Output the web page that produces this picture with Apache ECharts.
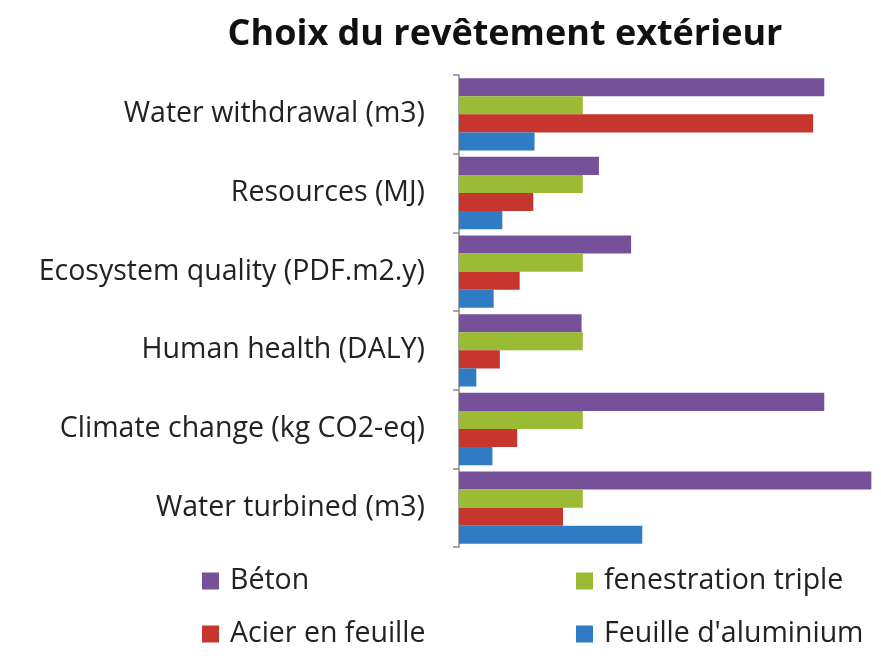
<!DOCTYPE html>
<html>
<head>
<meta charset="utf-8">
<script src="https://cdn.jsdelivr.net/npm/echarts@6/dist/echarts.min.js"></script>
<style>html,body{margin:0;padding:0;background:#fff}#c{width:881px;height:668px}</style>
</head>
<body>
<div id="c"></div>
<script>
const categories = ["Water withdrawal (m3)", "Resources (MJ)", "Ecosystem quality (PDF.m2.y)", "Human health (DALY)", "Climate change (kg CO2-eq)", "Water turbined (m3)"];
const seriesNames = ["Béton", "fenestration triple", "Acier en feuille", "Feuille d'aluminium"];
const beton = [295, 113, 139, 99, 295, 333];
const fenestration = [100, 100, 100, 100, 100, 100];
const acier = [286, 60, 49, 33, 47, 84];
const aluminium = [61, 35, 28, 14, 27, 148];
const colors = ["#77509a", "#9bbb34", "#c6362f", "#2f7bc4"];
const values = [beton, fenestration, acier, aluminium];

const chart = echarts.init(document.getElementById('c'));
const font = '"Open Sans", sans-serif';
const legendText = { fontFamily: font, fontSize: 28.5, color: '#222', lineHeight: 30, padding: [0, 0, 0, 6] };
chart.setOption({
  animation: false,
  title: {
    text: 'Choix du revêtement extérieur',
    left: 500, top: 12, textAlign: 'center',
    textStyle: { fontFamily: font, fontWeight: 'bold', fontSize: 36, color: '#111' }
  },
  legend: [
    { data: [seriesNames[0], seriesNames[2]], orient: 'vertical', left: 202, top: 566, itemGap: 23, padding: 0,
      itemWidth: 17, itemHeight: 17, icon: 'rect', textStyle: legendText },
    { data: [seriesNames[1], seriesNames[3]], orient: 'vertical', left: 576, top: 566, itemGap: 23, padding: 0,
      itemWidth: 17, itemHeight: 17, icon: 'rect', textStyle: legendText }
  ],
  grid: { left: 459, top: 75, right: 1, bottom: 121, containLabel: false },
  xAxis: { type: 'value', min: 0, max: 340, show: false },
  yAxis: {
    type: 'category', data: categories, inverse: true,
    axisLine: { show: true, lineStyle: { color: '#8a8a8a', width: 1.5 } },
    axisTick: { show: true, length: 6, alignWithLabel: false, lineStyle: { color: '#8a8a8a', width: 1.5 } },
    axisLabel: { margin: 34, fontFamily: font, fontSize: 28.5, color: '#222' }
  },
  series: values.map((v, i) => ({
    name: seriesNames[i], type: 'bar', data: v,
    barGap: '0%', barCategoryGap: '8%',
    itemStyle: { color: colors[i] }
  }))
});
</script>
</body>
</html>
